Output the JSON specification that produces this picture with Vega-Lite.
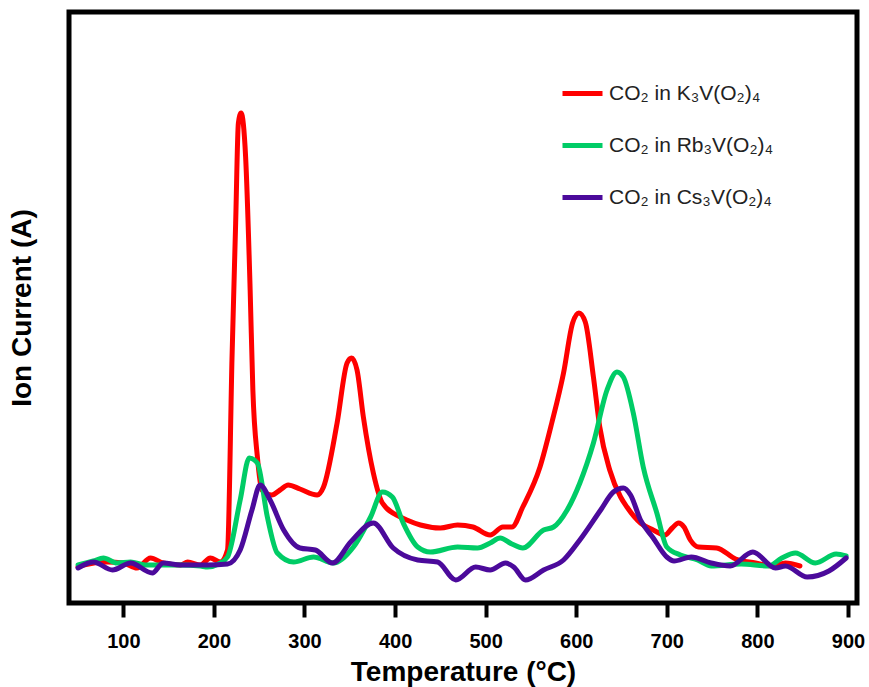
{
  "$schema": "https://vega.github.io/schema/vega-lite/v6.json",
  "width": 788,
  "height": 591,
  "autosize": {"type": "none"},
  "padding": {"left": 69, "top": 12, "right": 12, "bottom": 84},
  "background": "white",
  "config": {
    "view": {"stroke": "black", "strokeWidth": 5},
    "font": "Liberation Sans"
  },
  "datasets": {
    "curves": [
      {"series": "CO₂ in K₃V(O₂)₄", "t": 50, "v": 3.6},
      {"series": "CO₂ in K₃V(O₂)₄", "t": 56, "v": 3.8},
      {"series": "CO₂ in K₃V(O₂)₄", "t": 82, "v": 4.1},
      {"series": "CO₂ in K₃V(O₂)₄", "t": 100, "v": 4.0},
      {"series": "CO₂ in K₃V(O₂)₄", "t": 115, "v": 3.5},
      {"series": "CO₂ in K₃V(O₂)₄", "t": 130, "v": 4.5},
      {"series": "CO₂ in K₃V(O₂)₄", "t": 144, "v": 4.0},
      {"series": "CO₂ in K₃V(O₂)₄", "t": 163, "v": 3.8},
      {"series": "CO₂ in K₃V(O₂)₄", "t": 171, "v": 4.1},
      {"series": "CO₂ in K₃V(O₂)₄", "t": 185, "v": 3.8},
      {"series": "CO₂ in K₃V(O₂)₄", "t": 196, "v": 4.5},
      {"series": "CO₂ in K₃V(O₂)₄", "t": 207, "v": 4.1},
      {"series": "CO₂ in K₃V(O₂)₄", "t": 215, "v": 5.3},
      {"series": "CO₂ in K₃V(O₂)₄", "t": 220, "v": 24.6},
      {"series": "CO₂ in K₃V(O₂)₄", "t": 224, "v": 38},
      {"series": "CO₂ in K₃V(O₂)₄", "t": 227, "v": 48},
      {"series": "CO₂ in K₃V(O₂)₄", "t": 230, "v": 49},
      {"series": "CO₂ in K₃V(O₂)₄", "t": 235, "v": 44.6},
      {"series": "CO₂ in K₃V(O₂)₄", "t": 240, "v": 31.3},
      {"series": "CO₂ in K₃V(O₂)₄", "t": 243, "v": 21.3},
      {"series": "CO₂ in K₃V(O₂)₄", "t": 248, "v": 14.6},
      {"series": "CO₂ in K₃V(O₂)₄", "t": 253, "v": 11.3},
      {"series": "CO₂ in K₃V(O₂)₄", "t": 264, "v": 10.8},
      {"series": "CO₂ in K₃V(O₂)₄", "t": 273, "v": 11.3},
      {"series": "CO₂ in K₃V(O₂)₄", "t": 282, "v": 11.8},
      {"series": "CO₂ in K₃V(O₂)₄", "t": 295, "v": 11.4},
      {"series": "CO₂ in K₃V(O₂)₄", "t": 314, "v": 10.8},
      {"series": "CO₂ in K₃V(O₂)₄", "t": 321, "v": 11.6},
      {"series": "CO₂ in K₃V(O₂)₄", "t": 336, "v": 18},
      {"series": "CO₂ in K₃V(O₂)₄", "t": 347, "v": 24},
      {"series": "CO₂ in K₃V(O₂)₄", "t": 352, "v": 24.5},
      {"series": "CO₂ in K₃V(O₂)₄", "t": 358, "v": 23.3},
      {"series": "CO₂ in K₃V(O₂)₄", "t": 365, "v": 18.6},
      {"series": "CO₂ in K₃V(O₂)₄", "t": 376, "v": 13},
      {"series": "CO₂ in K₃V(O₂)₄", "t": 386, "v": 10},
      {"series": "CO₂ in K₃V(O₂)₄", "t": 406, "v": 8.6},
      {"series": "CO₂ in K₃V(O₂)₄", "t": 413, "v": 8.3},
      {"series": "CO₂ in K₃V(O₂)₄", "t": 428, "v": 7.8},
      {"series": "CO₂ in K₃V(O₂)₄", "t": 450, "v": 7.5},
      {"series": "CO₂ in K₃V(O₂)₄", "t": 469, "v": 7.8},
      {"series": "CO₂ in K₃V(O₂)₄", "t": 486, "v": 7.6},
      {"series": "CO₂ in K₃V(O₂)₄", "t": 505, "v": 6.8},
      {"series": "CO₂ in K₃V(O₂)₄", "t": 519, "v": 7.6},
      {"series": "CO₂ in K₃V(O₂)₄", "t": 529, "v": 7.6},
      {"series": "CO₂ in K₃V(O₂)₄", "t": 541, "v": 9.6},
      {"series": "CO₂ in K₃V(O₂)₄", "t": 560, "v": 13.6},
      {"series": "CO₂ in K₃V(O₂)₄", "t": 573, "v": 18},
      {"series": "CO₂ in K₃V(O₂)₄", "t": 586, "v": 23},
      {"series": "CO₂ in K₃V(O₂)₄", "t": 596, "v": 28},
      {"series": "CO₂ in K₃V(O₂)₄", "t": 603, "v": 29},
      {"series": "CO₂ in K₃V(O₂)₄", "t": 610, "v": 28.1},
      {"series": "CO₂ in K₃V(O₂)₄", "t": 619, "v": 22.6},
      {"series": "CO₂ in K₃V(O₂)₄", "t": 626, "v": 17.6},
      {"series": "CO₂ in K₃V(O₂)₄", "t": 637, "v": 13.3},
      {"series": "CO₂ in K₃V(O₂)₄", "t": 649, "v": 10.6},
      {"series": "CO₂ in K₃V(O₂)₄", "t": 656, "v": 9.6},
      {"series": "CO₂ in K₃V(O₂)₄", "t": 671, "v": 8},
      {"series": "CO₂ in K₃V(O₂)₄", "t": 685, "v": 7.3},
      {"series": "CO₂ in K₃V(O₂)₄", "t": 698, "v": 6.8},
      {"series": "CO₂ in K₃V(O₂)₄", "t": 706, "v": 7.5},
      {"series": "CO₂ in K₃V(O₂)₄", "t": 713, "v": 8},
      {"series": "CO₂ in K₃V(O₂)₄", "t": 719, "v": 7.6},
      {"series": "CO₂ in K₃V(O₂)₄", "t": 726, "v": 6.3},
      {"series": "CO₂ in K₃V(O₂)₄", "t": 735, "v": 5.6},
      {"series": "CO₂ in K₃V(O₂)₄", "t": 755, "v": 5.5},
      {"series": "CO₂ in K₃V(O₂)₄", "t": 776, "v": 4.4},
      {"series": "CO₂ in K₃V(O₂)₄", "t": 798, "v": 4.0},
      {"series": "CO₂ in K₃V(O₂)₄", "t": 816, "v": 3.7},
      {"series": "CO₂ in K₃V(O₂)₄", "t": 831, "v": 4.0},
      {"series": "CO₂ in K₃V(O₂)₄", "t": 847, "v": 3.7},

      {"series": "CO₂ in Rb₃V(O₂)₄", "t": 50, "v": 3.8},
      {"series": "CO₂ in Rb₃V(O₂)₄", "t": 67, "v": 4.2},
      {"series": "CO₂ in Rb₃V(O₂)₄", "t": 78, "v": 4.5},
      {"series": "CO₂ in Rb₃V(O₂)₄", "t": 93, "v": 4.0},
      {"series": "CO₂ in Rb₃V(O₂)₄", "t": 108, "v": 4.1},
      {"series": "CO₂ in Rb₃V(O₂)₄", "t": 124, "v": 3.8},
      {"series": "CO₂ in Rb₃V(O₂)₄", "t": 138, "v": 3.8},
      {"series": "CO₂ in Rb₃V(O₂)₄", "t": 163, "v": 3.8},
      {"series": "CO₂ in Rb₃V(O₂)₄", "t": 185, "v": 3.7},
      {"series": "CO₂ in Rb₃V(O₂)₄", "t": 193, "v": 3.6},
      {"series": "CO₂ in Rb₃V(O₂)₄", "t": 205, "v": 3.9},
      {"series": "CO₂ in Rb₃V(O₂)₄", "t": 215, "v": 4.6},
      {"series": "CO₂ in Rb₃V(O₂)₄", "t": 229, "v": 10.3},
      {"series": "CO₂ in Rb₃V(O₂)₄", "t": 239, "v": 14.5},
      {"series": "CO₂ in Rb₃V(O₂)₄", "t": 248, "v": 14},
      {"series": "CO₂ in Rb₃V(O₂)₄", "t": 259, "v": 8.6},
      {"series": "CO₂ in Rb₃V(O₂)₄", "t": 270, "v": 5},
      {"series": "CO₂ in Rb₃V(O₂)₄", "t": 288, "v": 4.1},
      {"series": "CO₂ in Rb₃V(O₂)₄", "t": 310, "v": 4.6},
      {"series": "CO₂ in Rb₃V(O₂)₄", "t": 332, "v": 4.0},
      {"series": "CO₂ in Rb₃V(O₂)₄", "t": 354, "v": 5.6},
      {"series": "CO₂ in Rb₃V(O₂)₄", "t": 373, "v": 8.6},
      {"series": "CO₂ in Rb₃V(O₂)₄", "t": 386, "v": 11.1},
      {"series": "CO₂ in Rb₃V(O₂)₄", "t": 397, "v": 10.6},
      {"series": "CO₂ in Rb₃V(O₂)₄", "t": 409, "v": 8},
      {"series": "CO₂ in Rb₃V(O₂)₄", "t": 425, "v": 5.6},
      {"series": "CO₂ in Rb₃V(O₂)₄", "t": 439, "v": 5.1},
      {"series": "CO₂ in Rb₃V(O₂)₄", "t": 469, "v": 5.6},
      {"series": "CO₂ in Rb₃V(O₂)₄", "t": 491, "v": 5.5},
      {"series": "CO₂ in Rb₃V(O₂)₄", "t": 505, "v": 6},
      {"series": "CO₂ in Rb₃V(O₂)₄", "t": 516, "v": 6.5},
      {"series": "CO₂ in Rb₃V(O₂)₄", "t": 529, "v": 5.9},
      {"series": "CO₂ in Rb₃V(O₂)₄", "t": 541, "v": 5.5},
      {"series": "CO₂ in Rb₃V(O₂)₄", "t": 564, "v": 7.3},
      {"series": "CO₂ in Rb₃V(O₂)₄", "t": 575, "v": 7.6},
      {"series": "CO₂ in Rb₃V(O₂)₄", "t": 590, "v": 9.3},
      {"series": "CO₂ in Rb₃V(O₂)₄", "t": 604, "v": 12},
      {"series": "CO₂ in Rb₃V(O₂)₄", "t": 619, "v": 16},
      {"series": "CO₂ in Rb₃V(O₂)₄", "t": 634, "v": 21.3},
      {"series": "CO₂ in Rb₃V(O₂)₄", "t": 645, "v": 23.1},
      {"series": "CO₂ in Rb₃V(O₂)₄", "t": 652, "v": 22.6},
      {"series": "CO₂ in Rb₃V(O₂)₄", "t": 663, "v": 19},
      {"series": "CO₂ in Rb₃V(O₂)₄", "t": 674, "v": 13.6},
      {"series": "CO₂ in Rb₃V(O₂)₄", "t": 689, "v": 9},
      {"series": "CO₂ in Rb₃V(O₂)₄", "t": 700, "v": 5.6},
      {"series": "CO₂ in Rb₃V(O₂)₄", "t": 715, "v": 4.8},
      {"series": "CO₂ in Rb₃V(O₂)₄", "t": 734, "v": 4.3},
      {"series": "CO₂ in Rb₃V(O₂)₄", "t": 749, "v": 3.7},
      {"series": "CO₂ in Rb₃V(O₂)₄", "t": 782, "v": 3.9},
      {"series": "CO₂ in Rb₃V(O₂)₄", "t": 812, "v": 3.7},
      {"series": "CO₂ in Rb₃V(O₂)₄", "t": 827, "v": 4.5},
      {"series": "CO₂ in Rb₃V(O₂)₄", "t": 842, "v": 5.0},
      {"series": "CO₂ in Rb₃V(O₂)₄", "t": 864, "v": 4.0},
      {"series": "CO₂ in Rb₃V(O₂)₄", "t": 887, "v": 4.9},
      {"series": "CO₂ in Rb₃V(O₂)₄", "t": 898, "v": 4.7},

      {"series": "CO₂ in Cs₃V(O₂)₄", "t": 50, "v": 3.5},
      {"series": "CO₂ in Cs₃V(O₂)₄", "t": 67, "v": 4.1},
      {"series": "CO₂ in Cs₃V(O₂)₄", "t": 88, "v": 3.3},
      {"series": "CO₂ in Cs₃V(O₂)₄", "t": 108, "v": 4.0},
      {"series": "CO₂ in Cs₃V(O₂)₄", "t": 132, "v": 3.0},
      {"series": "CO₂ in Cs₃V(O₂)₄", "t": 144, "v": 4.0},
      {"series": "CO₂ in Cs₃V(O₂)₄", "t": 163, "v": 3.8},
      {"series": "CO₂ in Cs₃V(O₂)₄", "t": 193, "v": 3.8},
      {"series": "CO₂ in Cs₃V(O₂)₄", "t": 215, "v": 3.9},
      {"series": "CO₂ in Cs₃V(O₂)₄", "t": 229, "v": 5.3},
      {"series": "CO₂ in Cs₃V(O₂)₄", "t": 242, "v": 9.3},
      {"series": "CO₂ in Cs₃V(O₂)₄", "t": 251, "v": 11.8},
      {"series": "CO₂ in Cs₃V(O₂)₄", "t": 262, "v": 10.3},
      {"series": "CO₂ in Cs₃V(O₂)₄", "t": 277, "v": 7.3},
      {"series": "CO₂ in Cs₃V(O₂)₄", "t": 295, "v": 5.5},
      {"series": "CO₂ in Cs₃V(O₂)₄", "t": 312, "v": 5.3},
      {"series": "CO₂ in Cs₃V(O₂)₄", "t": 331, "v": 4.0},
      {"series": "CO₂ in Cs₃V(O₂)₄", "t": 351, "v": 6.1},
      {"series": "CO₂ in Cs₃V(O₂)₄", "t": 376, "v": 8},
      {"series": "CO₂ in Cs₃V(O₂)₄", "t": 398, "v": 5.5},
      {"series": "CO₂ in Cs₃V(O₂)₄", "t": 425, "v": 4.3},
      {"series": "CO₂ in Cs₃V(O₂)₄", "t": 447, "v": 4.1},
      {"series": "CO₂ in Cs₃V(O₂)₄", "t": 467, "v": 2.3},
      {"series": "CO₂ in Cs₃V(O₂)₄", "t": 489, "v": 3.6},
      {"series": "CO₂ in Cs₃V(O₂)₄", "t": 505, "v": 3.3},
      {"series": "CO₂ in Cs₃V(O₂)₄", "t": 522, "v": 4.0},
      {"series": "CO₂ in Cs₃V(O₂)₄", "t": 531, "v": 3.6},
      {"series": "CO₂ in Cs₃V(O₂)₄", "t": 544, "v": 2.3},
      {"series": "CO₂ in Cs₃V(O₂)₄", "t": 564, "v": 3.3},
      {"series": "CO₂ in Cs₃V(O₂)₄", "t": 586, "v": 4.3},
      {"series": "CO₂ in Cs₃V(O₂)₄", "t": 604, "v": 6.3},
      {"series": "CO₂ in Cs₃V(O₂)₄", "t": 627, "v": 9.3},
      {"series": "CO₂ in Cs₃V(O₂)₄", "t": 641, "v": 11.1},
      {"series": "CO₂ in Cs₃V(O₂)₄", "t": 652, "v": 11.5},
      {"series": "CO₂ in Cs₃V(O₂)₄", "t": 660, "v": 10.8},
      {"series": "CO₂ in Cs₃V(O₂)₄", "t": 671, "v": 8.3},
      {"series": "CO₂ in Cs₃V(O₂)₄", "t": 685, "v": 6.5},
      {"series": "CO₂ in Cs₃V(O₂)₄", "t": 700, "v": 4.6},
      {"series": "CO₂ in Cs₃V(O₂)₄", "t": 708, "v": 4.2},
      {"series": "CO₂ in Cs₃V(O₂)₄", "t": 727, "v": 4.6},
      {"series": "CO₂ in Cs₃V(O₂)₄", "t": 749, "v": 4.0},
      {"series": "CO₂ in Cs₃V(O₂)₄", "t": 770, "v": 3.7},
      {"series": "CO₂ in Cs₃V(O₂)₄", "t": 795, "v": 5.1},
      {"series": "CO₂ in Cs₃V(O₂)₄", "t": 820, "v": 3.5},
      {"series": "CO₂ in Cs₃V(O₂)₄", "t": 831, "v": 3.7},
      {"series": "CO₂ in Cs₃V(O₂)₄", "t": 855, "v": 2.6},
      {"series": "CO₂ in Cs₃V(O₂)₄", "t": 879, "v": 3.2},
      {"series": "CO₂ in Cs₃V(O₂)₄", "t": 898, "v": 4.5}
    ]
  },
  "data": {"name": "curves"},
  "mark": {"type": "line", "strokeWidth": 5, "interpolate": "monotone", "strokeJoin": "round", "strokeCap": "round"},
  "encoding": {
    "x": {
      "field": "t",
      "type": "quantitative",
      "scale": {"domain": [40, 910], "nice": false, "zero": false},
      "axis": {
        "title": "Temperature (°C)",
        "values": [100, 200, 300, 400, 500, 600, 700, 800, 900],
        "grid": false,
        "domain": false,
        "ticks": true,
        "tickSize": 14,
        "tickWidth": 4,
        "tickColor": "black",
        "labelFont": "Liberation Sans",
        "labelFontSize": 20,
        "labelFontWeight": "bold",
        "labelColor": "black",
        "labelPadding": 14,
        "titleFont": "Liberation Sans",
        "titleFontSize": 28,
        "titleFontWeight": "bold",
        "titleColor": "black",
        "titlePadding": 7
      }
    },
    "y": {
      "field": "v",
      "type": "quantitative",
      "scale": {"domain": [0, 59.1], "nice": false, "zero": false},
      "axis": {
        "title": "Ion Current (A)",
        "grid": false,
        "domain": false,
        "ticks": false,
        "labels": false,
        "titleFont": "Liberation Sans",
        "titleFontSize": 28,
        "titleFontWeight": "bold",
        "titleColor": "black",
        "titlePadding": 33
      }
    },
    "color": {
      "field": "series",
      "type": "nominal",
      "sort": null,
      "scale": {
        "domain": ["CO₂ in K₃V(O₂)₄", "CO₂ in Rb₃V(O₂)₄", "CO₂ in Cs₃V(O₂)₄"],
        "range": ["#ff0000", "#00cc66", "#4b0a9b"]
      },
      "legend": {
        "title": null,
        "orient": "none",
        "legendX": 491,
        "legendY": 59,
        "padding": 0,
        "symbolType": "stroke",
        "symbolSize": 1600,
        "symbolStrokeWidth": 5,
        "labelFont": "Liberation Sans",
        "labelFontSize": 21,
        "labelColor": "#222222",
        "labelOffset": 4,
        "rowPadding": 19,
        "labelLimit": 300
      }
    }
  }
}
